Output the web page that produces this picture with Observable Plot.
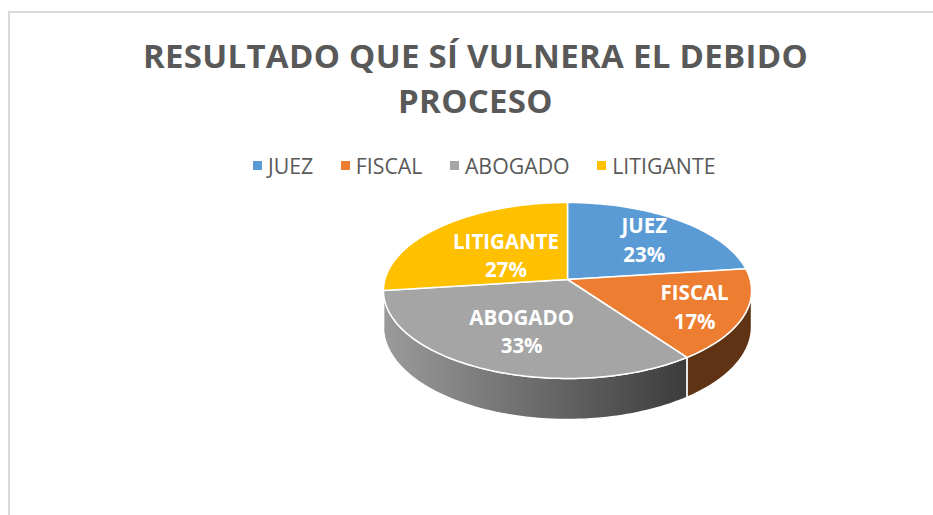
<!DOCTYPE html>
<html lang="es">
<head>
<meta charset="utf-8">
<script src="https://cdn.jsdelivr.net/npm/d3@7"></script>
<script src="https://cdn.jsdelivr.net/npm/@observablehq/plot@0.6"></script>
<style>
  html, body { margin: 0; padding: 0; background: #fff; overflow: hidden; }
  #page { position: relative; width: 933px; height: 515px; overflow: hidden; font-family: "Open Sans", sans-serif; color: #595959; }
  #frame { position: absolute; left: 8px; top: 11px; width: 960px; height: 560px; border: 2px solid #d9d9d9; box-sizing: border-box; }
  #title { position: absolute; left: 0; top: 33px; width: 951px; text-align: center; font-size: 33px; font-weight: 700; line-height: 45px; letter-spacing: 0.3px; }
  #legend { position: absolute; left: 253px; top: 151px; height: 28px; display: flex; align-items: center; font-size: 21.3px; white-space: nowrap; }
  #legend span.item { display: flex; align-items: center; margin-right: 27.5px; }
  #legend i { display: block; width: 9px; height: 9px; margin-right: 6px; }
  #chart { position: absolute; left: 0; top: 185px; }
  #chart svg { display: block; }
</style>
</head>
<body>
<div id="page">
  <div id="frame"></div>
  <div id="title">RESULTADO QUE SÍ VULNERA EL DEBIDO<br>PROCESO</div>
  <div id="legend"></div>
  <div id="chart"></div>
</div>
<script>
const categories = ["JUEZ", "FISCAL", "ABOGADO", "LITIGANTE"];
const percents = [23, 17, 33, 27];
const colors = ["#5b9bd5", "#ed7d31", "#a5a5a5", "#ffc000"];
const sideColors = ["#345a7d", "#603314", "url(#abogadoSide)", "#94700a"];

// perspective of the tilted disc
const k = 0.125, depth = 0.415, hiddenEnd = Math.PI * 2;
const project = (r, a, drop = 0) => {
  const w = 1 + k * r * Math.cos(a);
  return [r * Math.sin(a) / w, r * Math.cos(a) / w - drop / w];
};

const arcs = d3.pie().sort(null).value(d => d)(percents);
const rimAngles = (a0, a1) => d3.range(0, 81).map(i => a0 + (a1 - a0) * i / 80);

const faces = [], sides = [];
arcs.forEach((arc, i) => {
  const cat = categories[i];
  const rim = rimAngles(arc.startAngle, arc.endAngle);
  const pts = [[0, 0], ...rim.map(a => project(1, a)), [0, 0]];
  pts.forEach(([x, y]) => faces.push({cat, x, y}));
  // only the near half of the wall can be seen
  const a0 = Math.max(arc.startAngle, Math.acos(-k));
  const a1 = Math.min(arc.endAngle, hiddenEnd - Math.acos(-k));
  if (a1 > a0) {
    const wall = rimAngles(a0, a1);
    const ring = [...wall.map(a => project(1, a)), ...wall.slice().reverse().map(a => project(1, a, depth))];
    ring.push(ring[0]);
    ring.forEach(([x, y]) => sides.push({cat, x, y}));
  }
});

const labelRadius = {JUEZ: 0.676, FISCAL: 0.731, ABOGADO: 0.59, LITIGANTE: 0.466};
const labels = arcs.map((arc, i) => {
  const [x, y] = project(labelRadius[categories[i]], (arc.startAngle + arc.endAngle) / 2);
  return {text: `${categories[i]}\n${percents[i]}%`, x, y};
});

const gradient = () => {
  const defs = d3.create("svg:defs");
  const g = defs.append("linearGradient").attr("id", "abogadoSide");
  g.append("stop").attr("offset", "0%").attr("stop-color", "#9b9b9b");
  g.append("stop").attr("offset", "100%").attr("stop-color", "#3c3c3c");
  return defs.node();
};

const chart = Plot.plot({
  width: 933,
  height: 330,
  margin: 0,
  x: {domain: [-1, 1], range: [384.4, 749.6], axis: null},
  y: {domain: [-1, 1], range: [94 + 86.6, 94 - 86.6], axis: null},
  color: {domain: categories, range: colors},
  marks: [
    gradient,
    ...categories.map((cat, i) => Plot.line(sides.filter(d => d.cat === cat), {
      x: "x", y: "y", fill: sideColors[i], stroke: "#fff", strokeWidth: 1.5, strokeLinejoin: "round"
    })),
    Plot.line(faces, {x: "x", y: "y", z: "cat", fill: "cat", stroke: "#fff", strokeWidth: 1.5, strokeLinejoin: "round"}),
    Plot.text(labels, {x: "x", y: "y", text: "text", fill: "#fff", fontSize: 20.5, fontWeight: 700, fontFamily: "Open Sans", lineHeight: 1.4})
  ]
});
document.getElementById("chart").append(chart);

const legend = d3.select("#legend");
categories.forEach((cat, i) => {
  const item = legend.append("span").attr("class", "item");
  item.append("i").style("background", colors[i]);
  item.append("span").text(cat);
});
</script>
</body>
</html>
